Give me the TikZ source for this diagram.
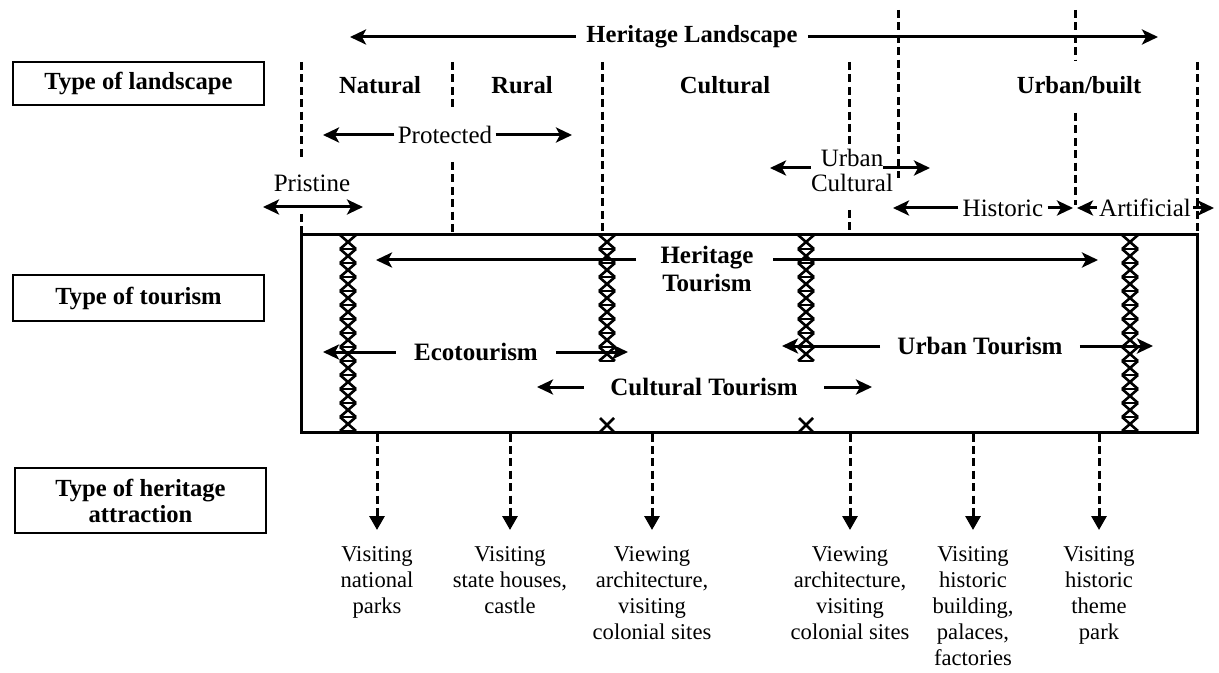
\documentclass[tikz,border=0pt]{standalone}
\usepackage{fontspec}
\setmainfont{Liberation Serif}
\usetikzlibrary{arrows.meta}

\tikzset{
  typebox/.style={draw, line width=1.4pt, minimum width=125.5pt, align=center,
    font=\bfseries\fontsize{12.3}{13}\selectfont},
  zone/.style={font=\bfseries\fontsize{12.3}{14}\selectfont},
  span/.style={font=\fontsize{12.5}{12.5}\selectfont, inner sep=1.5pt},
  tour/.style={font=\bfseries\fontsize{12.5}{14}\selectfont, align=center},
  visit/.style={font=\fontsize{11.3}{13}\selectfont, align=center, anchor=north, inner sep=2pt},
  arr/.style={line width=1.5pt, -{Stealth[length=8pt,width=7.5pt,inset=2pt]}},
  dbl/.style={line width=1.5pt, {Stealth[length=8pt,width=7.5pt,inset=2pt]}-{Stealth[length=8pt,width=7.5pt,inset=2pt]}},
  divider/.style={line width=1.5pt, dash pattern=on 4pt off 2.2pt},
  darr/.style={divider, -{Triangle[length=7pt,width=7.5pt]}, shorten >=6pt},
  chain/.style={line width=1.3pt, line join=round}
}

\begin{document}
\begin{tikzpicture}[x=0.5pt, y=-0.5pt]
    \useasboundingbox (0,0) rectangle (1219,673);

    \node[typebox, minimum height=21.5pt] (tland) at (138.5,83.5) {Type of landscape};
    \node[typebox, minimum height=23pt] (ttour) at (138.5,298) {Type of tourism};
    \node[typebox, minimum height=32.5pt] (tattr) at (140.5,500.5) {Type of heritage\\attraction};

    \node[zone, inner xsep=5pt] (hland) at (692,37) {Heritage Landscape};
    \coordinate (hlandL) at (350,37);
    \coordinate (hlandR) at (1158,37);
    \draw[arr] (hland) -- (hlandL);
    \draw[arr] (hland) -- (hlandR);

    \foreach \x/\a/\b in {301/62/160, 301/214/235, 452/62/108, 452/162/235, 602/62/235,
        849/62/145, 849/210/235, 898/10/178, 1075/10/60, 1075/113/205, 1197/62/235}
        \draw[divider] (\x,\a) -- (\x,\b);

    \node[zone] (natural) at (380,85) {Natural};
    \node[zone] (rural) at (522,85) {Rural};
    \node[zone] (cultural) at (725,85) {Cultural};
    \node[zone] (urban) at (1079,85) {Urban/built};

    \node[span] (prot) at (445,135) {Protected};
    \coordinate (protL) at (323,135);
    \coordinate (protR) at (572,135);
    \draw[arr] (prot) -- (protL);
    \draw[arr] (prot) -- (protR);

    \node[span] (prist) at (312,183) {Pristine};
    \coordinate (pristL) at (263,207);
    \coordinate (pristR) at (363,207);
    \draw[dbl] (pristL) -- (pristR);

    \node[span, align=center, inner sep=0pt] (urbcul) at (852,170) {Urban\\Cultural};
    \coordinate (urbculL) at (770,168);
    \coordinate (urbculR) at (930,168);
    \draw[arr] (urbcul.west |- urbculL) -- (urbculL);
    \draw[arr] ([xshift=-5pt]urbcul.east |- urbculR) -- (urbculR);

    \node[span, inner xsep=2pt] (hist) at (1003,208) {Historic};
    \coordinate (histL) at (893,208);
    \coordinate (histR) at (1073,208);
    \draw[arr] (hist) -- (histL);
    \draw[arr] (hist) -- (histR);

    \node[span, inner xsep=1pt] (artif) at (1145,208) {Artificial};
    \coordinate (artifL) at (1077,208);
    \coordinate (artifR) at (1214,208);
    \draw[arr] (artif) -- (artifL);
    \draw[arr] (artif) -- (artifR);

    \node[draw, line width=1.5pt, minimum width=448pt, minimum height=98.5pt, inner sep=0pt] (tbox) at (749,333.5) {};

    \foreach \c/\n in {348/14, 1130/14, 607/9, 806/9} {
        \foreach \k in {1,...,\n} {
            \draw[chain] (\c-8,{235+14*(\k-1)}) -- (\c+8,{235+14*\k})
                (\c+8,{235+14*(\k-1)}) -- (\c-8,{235+14*\k});
            \draw[chain] (\c-7,{235+14*\k}) -- (\c+7,{235+14*\k});
        }
    }
    \foreach \c in {607,806}
        \draw[chain] (\c-7,418) -- (\c+7,432) (\c+7,418) -- (\c-7,432);

    \node[tour] (htour) at (707,269) {Heritage\\Tourism};
    \coordinate (htourA) at (636,260);
    \coordinate (htourB) at (376,260);
    \coordinate (htourC) at (773,260);
    \coordinate (htourD) at (1098,260);
    \draw[arr] (htourA) -- (htourB);
    \draw[arr] (htourC) -- (htourD);

    \node[tour, inner xsep=9pt] (eco) at (476,352) {Ecotourism};
    \coordinate (ecoL) at (323,352);
    \coordinate (ecoR) at (628,352);
    \draw[arr] (eco) -- (ecoL);
    \draw[arr] (eco) -- (ecoR);

    \node[tour, inner xsep=8.5pt] (urbt) at (980,346) {Urban Tourism};
    \coordinate (urbtL) at (782,346);
    \coordinate (urbtR) at (1153,346);
    \draw[arr] (urbt) -- (urbtL);
    \draw[arr] (urbt) -- (urbtR);

    \node[tour, inner xsep=13pt] (cult) at (704,387) {Cultural Tourism};
    \coordinate (cultL) at (537,387);
    \coordinate (cultR) at (872,387);
    \draw[arr] (cult) -- (cultL);
    \draw[arr] (cult) -- (cultR);

    \node[visit] (v1) at (377,542) {Visiting\\national\\parks};
    \node[visit] (v2) at (510,542) {Visiting\\state houses,\\castle};
    \node[visit] (v3) at (652,542) {Viewing\\architecture,\\visiting\\colonial sites};
    \node[visit] (v4) at (850,542) {Viewing\\architecture,\\visiting\\colonial sites};
    \node[visit] (v5) at (973,542) {Visiting\\historic\\building,\\palaces,\\factories};
    \node[visit] (v6) at (1099,542) {Visiting\\historic\\theme\\park};
    \foreach \v in {v1,v2,v3,v4,v5,v6}
        \draw[darr] (tbox.south -| \v) -- (\v);
\end{tikzpicture}
\end{document}
